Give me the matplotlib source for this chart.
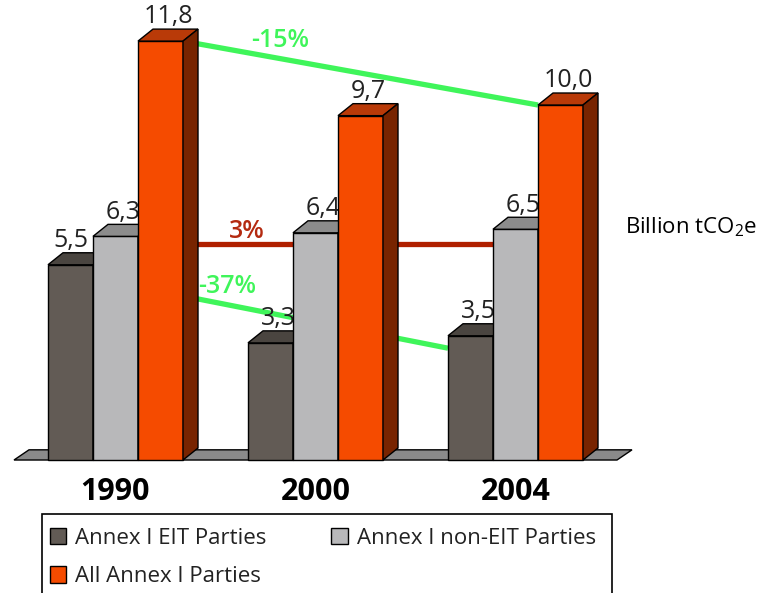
import matplotlib
matplotlib.use('Agg')
import matplotlib.pyplot as plt
import matplotlib.patches as patches

# datos
years = ['1990', '2000', '2004']
eit = [5.5, 3.3, 3.5]
non_eit = [6.3, 6.4, 6.5]
all_annex = [11.8, 9.7, 10.0]
series_names = ['Annex I EIT Parties', 'Annex I non-EIT Parties', 'All Annex I Parties']
change_labels = ['-15%', '3%', '-37%']
unit_label = r'Billion tCO$_\mathregular{2}$e'

# colores: frente, tapa, lado
colores = [('#625b55', '#4a4540', '#3a3531'),
           ('#b8b8ba', '#8c8c8c', '#6e6e6e'),
           ('#f54b00', '#b93a08', '#782400')]
verde = '#3ff55a'
rojo = '#b02000'

plt.rcParams['font.family'] = ['Open Sans', 'DejaVu Sans']

W = 0.225      # ancho de barra
DX = 0.075     # profundidad en x
DY = 0.338     # profundidad en y

fig = plt.figure(figsize=(7.63, 5.93), dpi=100)
ax = fig.add_axes([0, 0, 1, 1])
ax.set_xlim(-0.5775, 3.2375)
ax.set_ylim(-3.746, 12.958)
ax.axis('off')


def barra3d(x0, h, col, z):
    frente, tapa, lado = col
    ax.add_patch(patches.Rectangle((x0, 0), W, h, facecolor=frente,
                                   edgecolor='black', lw=1, zorder=z))
    ax.add_patch(patches.Polygon([(x0, h), (x0 + W, h), (x0 + W + DX, h + DY),
                                  (x0 + DX, h + DY)], closed=True,
                                 facecolor=tapa, edgecolor='black', lw=1, zorder=z))
    ax.add_patch(patches.Polygon([(x0 + W, 0), (x0 + W + DX, DY),
                                  (x0 + W + DX, h + DY), (x0 + W, h)], closed=True,
                                 facecolor=lado, edgecolor='black', lw=1, zorder=z))


# piso
x_ini = -1.5 * W - 0.17
x_fin = len(years) - 1 + 1.5 * W + 0.17
ax.add_patch(patches.Polygon([(x_ini, 0), (x_fin, 0), (x_fin + DX, DY * 0.85),
                              (x_ini + DX, DY * 0.85)], closed=True,
                             facecolor='#8a8a8a', edgecolor='black', lw=1, zorder=1))

series = [eit, non_eit, all_annex]
z = 3
for i in range(len(years)):
    for j, serie in enumerate(series):
        x0 = i - 1.5 * W + j * W
        v = serie[i]
        barra3d(x0, v, colores[j], z)
        dx_lab = DX / 2 if j > 0 or i > 0 else 0
        ax.text(x0 + W / 2 + dx_lab, v + 0.5, ('%.1f' % v).replace('.', ','),
                ha='center', va='baseline', fontsize=18, color='#222222',
                zorder=z + 0.5)
        z += 1
    ax.text(i, -1.14, years[i], ha='center', va='baseline', fontsize=22,
            fontweight='bold', color='black')

# lineas de cambio
x_1990_all = 1.5 * W
x_2004_all = 2 + 0.5 * W
x_2004_non = 2 - 0.5 * W
x_2004_eit = 2 - 1.5 * W
ax.plot([x_1990_all, x_2004_all], [all_annex[0], all_annex[2]], color=verde,
        lw=3.8, zorder=2, solid_capstyle='butt')
ax.plot([x_1990_all, x_2004_non], [6.08, 6.08], color=rojo, lw=3.8, zorder=2,
        solid_capstyle='butt')
ax.plot([x_1990_all, x_2004_eit], [4.62, 3.15], color=verde, lw=3.8, zorder=2,
        solid_capstyle='butt')

ax.text(0.8225, 11.63, change_labels[0], ha='center', va='baseline', fontsize=18,
        fontweight='semibold', color=verde, zorder=2.5)
ax.text(0.6575, 6.25, change_labels[1], ha='center', va='baseline', fontsize=18,
        fontweight='semibold', color='#b42a10', zorder=2.5)
ax.text(0.5575, 4.70, change_labels[2], ha='center', va='baseline', fontsize=18,
        fontweight='semibold', color=verde, zorder=2.5)

ax.text(2.5475, 6.39, unit_label, ha='left', va='baseline', fontsize=16,
        color='black')

# leyenda (orden por filas)
handles = [patches.Patch(facecolor=c[0], edgecolor='black', lw=1) for c in colores]
orden = [0, 2, 1]
leg = fig.legend([handles[k] for k in orden], [series_names[k] for k in orden],
                 loc='upper left', bbox_to_anchor=(42 / 763, 1 - 520 / 593),
                 ncol=2, fontsize=16, frameon=False,
                 handlelength=0.75, handleheight=0.75,
                 handletextpad=0.4, columnspacing=2.9, labelspacing=0.78,
                 borderpad=0.35, borderaxespad=0)
for t in leg.get_texts():
    t.set_color('#222222')
# marco de la leyenda, cortado por el borde inferior
fig.patches.append(patches.Rectangle((42 / 763, -0.05), (612 - 42) / 763,
                                     0.05 + 1 - 514 / 593, transform=fig.transFigure,
                                     facecolor='none', edgecolor='black', lw=1.2))

fig.savefig('out.png', dpi=100)
plt.close('all')
